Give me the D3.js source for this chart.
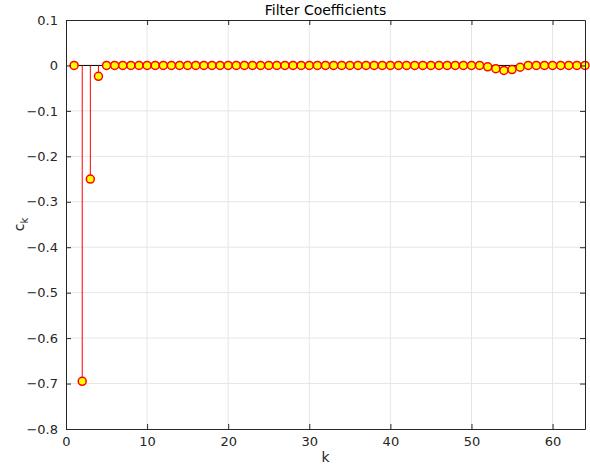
<!DOCTYPE html>
<html>
<head>
<meta charset="utf-8">
<script src="https://cdn.jsdelivr.net/npm/d3@7"></script>
<style>
  body { margin: 0; background: #fff; }
  text { font-family: "DejaVu Sans", "Noto Sans", sans-serif; }
</style>
</head>
<body>
<svg id="chart"></svg>
<script>
// filter coefficients c_k, k = 1..64
const kValues = d3.range(1, 65);
const coeffs = [
  0, -0.695, -0.25, -0.024, 0, 0, 0, 0, 0, 0,
  0, 0, 0, 0, 0, 0, 0, 0, 0, 0,
  0, 0, 0, 0, 0, 0, 0, 0, 0, 0,
  0, 0, 0, 0, 0, 0, 0, 0, 0, 0,
  0, 0, 0, 0, 0, 0, 0, 0, 0, 0,
  0, -0.003, -0.007, -0.011, -0.009, -0.004, 0, 0, 0, 0,
  0, 0, 0, 0
];
const xTicks = [0, 10, 20, 30, 40, 50, 60];
const yTicks = [-0.8, -0.7, -0.6, -0.5, -0.4, -0.3, -0.2, -0.1, 0, 0.1];

const width = 590, height = 466;
const margin = { top: 20, right: 5, bottom: 37, left: 66 };
const w = width - margin.left - margin.right;
const h = height - margin.top - margin.bottom;

const svg = d3.select('#chart').attr('width', width).attr('height', height);
const g = svg.append('g').attr('transform', `translate(${margin.left},${margin.top})`);

const x = d3.scaleLinear().domain([0, 64]).range([0, w]);
const y = d3.scaleLinear().domain([-0.8, 0.1]).range([h, 0]);

// grid
g.append('g').selectAll('line').data(xTicks.slice(1)).join('line')
  .attr('x1', d => x(d)).attr('x2', d => x(d)).attr('y1', 0).attr('y2', h)
  .attr('stroke', '#e6e6e6');
g.append('g').selectAll('line').data(yTicks.slice(1, -1)).join('line')
  .attr('y1', d => y(d)).attr('y2', d => y(d)).attr('x1', 0).attr('x2', w)
  .attr('stroke', '#e6e6e6');

// baseline
g.append('line')
  .attr('x1', x(1)).attr('x2', x(64)).attr('y1', y(0)).attr('y2', y(0))
  .attr('stroke', '#000').attr('stroke-width', 1);

// stems
const data = kValues.map((k, i) => ({ k, c: coeffs[i] }));
g.append('g').selectAll('line').data(data.filter(d => d.c !== 0)).join('line')
  .attr('x1', d => x(d.k)).attr('x2', d => x(d.k))
  .attr('y1', y(0)).attr('y2', d => y(d.c))
  .attr('stroke', 'red').attr('stroke-width', 1);

// markers
g.append('g').selectAll('circle').data(data).join('circle')
  .attr('cx', d => x(d.k)).attr('cy', d => y(d.c)).attr('r', 4)
  .attr('fill', '#ffff00').attr('stroke', 'red').attr('stroke-width', 1.5);

// axes
const axColor = '#262626';
const xAxis = g.append('g').attr('transform', `translate(0,${h})`)
  .call(d3.axisBottom(x).tickValues(xTicks).tickSizeInner(-5).tickSizeOuter(0).tickPadding(8));
const yAxis = g.append('g')
  .call(d3.axisLeft(y).tickValues(yTicks).tickSizeInner(-5).tickSizeOuter(0).tickPadding(8)
    .tickFormat(d => d3.format('')(+d.toFixed(1))));
const xTop = g.append('g')
  .call(d3.axisTop(x).tickValues(xTicks).tickSizeInner(-5).tickSizeOuter(0).tickFormat(''));
const yRight = g.append('g').attr('transform', `translate(${w},0)`)
  .call(d3.axisRight(y).tickValues(yTicks).tickSizeInner(-5).tickSizeOuter(0).tickFormat(''));
[xAxis, yAxis, xTop, yRight].forEach(a => {
  a.select('.domain').attr('stroke', axColor);
  a.selectAll('.tick line').attr('stroke', axColor);
  a.selectAll('.tick text').attr('fill', axColor).style('font-size', '13px');
});

// labels
svg.append('text')
  .attr('x', margin.left + w / 2).attr('y', 15)
  .attr('text-anchor', 'middle').style('font-size', '14px').attr('fill', '#000')
  .text('Filter Coefficients');

svg.append('text')
  .attr('x', margin.left + w / 2).attr('y', 462)
  .attr('text-anchor', 'middle').style('font-size', '14px').attr('fill', axColor)
  .text('k');

const yl = svg.append('text')
  .attr('transform', `translate(24,${margin.top + h / 2}) rotate(-90)`)
  .attr('text-anchor', 'middle').style('font-size', '14px').attr('fill', axColor);
yl.append('tspan').text('c');
yl.append('tspan').attr('dy', 4).style('font-size', '10px').text('k');
</script>
</body>
</html>
